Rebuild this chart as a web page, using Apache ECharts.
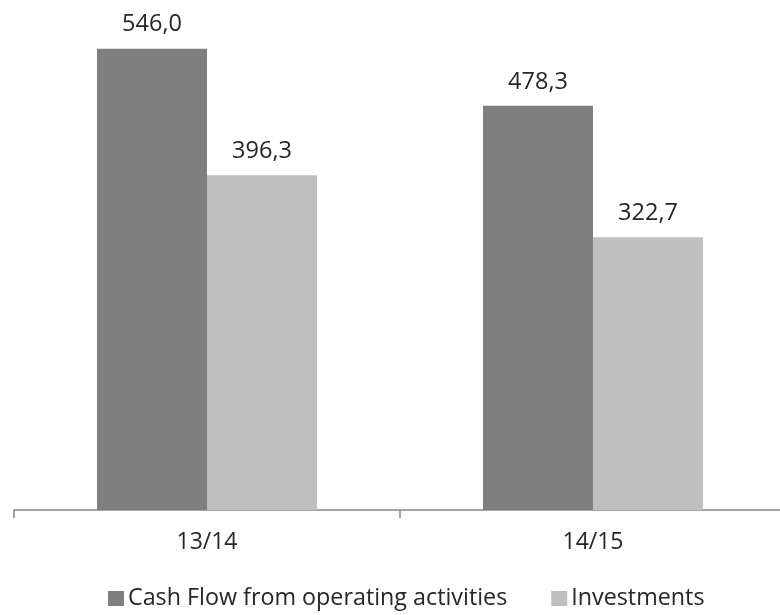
<!DOCTYPE html>
<html>
<head>
<meta charset="utf-8">
<script src="https://cdn.jsdelivr.net/npm/echarts@6/dist/echarts.min.js"></script>
<style>
html,body{margin:0;padding:0;background:#fff;overflow:hidden;}
#chart{width:780px;height:615px;}
</style>
</head>
<body>
<div id="chart"></div>
<script>
const categories = ['13/14', '14/15'];
const seriesNames = ['Cash Flow from operating activities', 'Investments'];
const cashFlow = [546.0, 478.3];
const investments = [396.3, 322.7];
const colors = ['#7f7f7f', '#bfbfbf'];

const FONT = '"Open Sans", "Noto Sans", sans-serif';
const chart = echarts.init(document.getElementById('chart'));
const fmt = p => p.value.toFixed(1).replace('.', ',');
const labelCfg = {
  show: true, position: 'top', distance: 12,
  formatter: fmt, color: '#262626', fontFamily: FONT, fontSize: 23.5
};
chart.setOption({
  animation: false,
  grid: { left: 14, width: 772, top: 3, bottom: 105, containLabel: false, outerBoundsMode: 'none' },
  legend: {
    bottom: 0, left: 103,
    itemWidth: 16, itemHeight: 15, itemGap: 44,
    icon: 'rect',
    textStyle: { color: '#262626', fontFamily: FONT, fontSize: 23.3, padding: [0,0,0,-1] },
    data: seriesNames
  },
  xAxis: {
    type: 'category', data: categories, boundaryGap: true,
    axisLine: { lineStyle: { color: '#868686', width: 1.5 } },
    axisTick: { show: true, length: 8, alignWithLabel: false, lineStyle: { color: '#868686', width: 1.5 } },
    axisLabel: { color: '#262626', fontFamily: FONT, fontSize: 23, margin: 21 }
  },
  yAxis: { type: 'value', min: 0, max: 600, show: false, splitLine: { show: false } },
  series: [
    { name: seriesNames[0], type: 'bar', data: cashFlow, itemStyle: { color: colors[0] },
      barGap: '0%', barCategoryGap: '43%', label: labelCfg },
    { name: seriesNames[1], type: 'bar', data: investments, itemStyle: { color: colors[1] },
      barGap: '0%', barCategoryGap: '43%', label: labelCfg }
  ]
});
</script>
</body>
</html>
